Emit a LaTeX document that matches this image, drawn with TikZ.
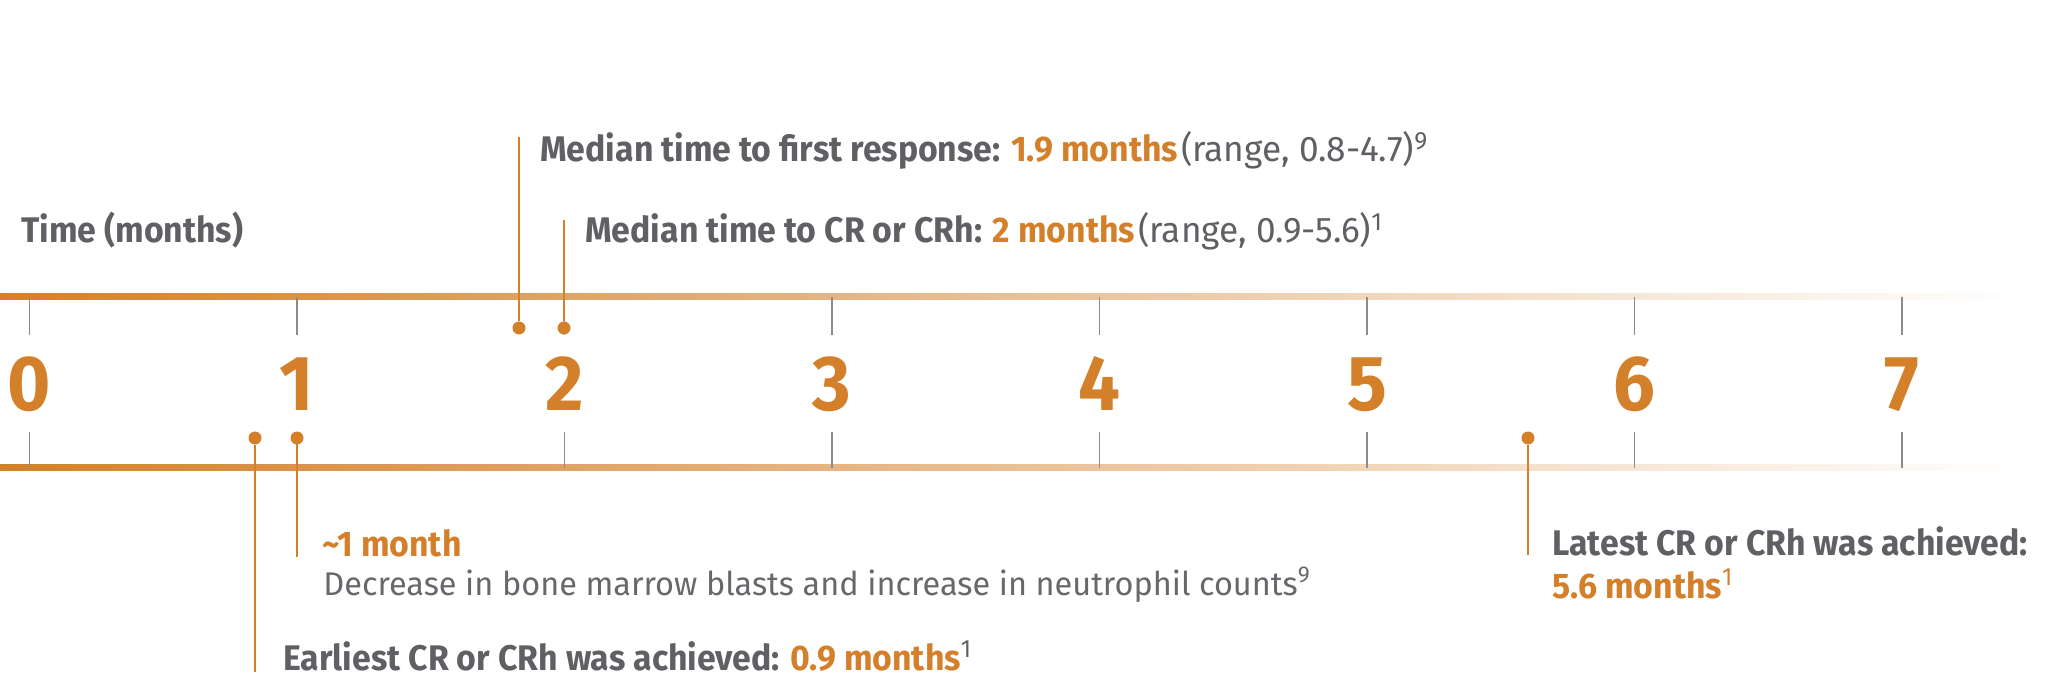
\documentclass[tikz,border=0pt]{standalone}
\usepackage{fontspec}
\setmainfont{Fira Sans}
\newfontfamily\firasemi{Fira Sans}[FakeStretch=0.95]
\newfontfamily\firalight{Fira Sans}[FakeStretch=0.99]
\usetikzlibrary{positioning}
\definecolor{accent}{HTML}{D4802B}
\definecolor{ink}{HTML}{5F6064}
\definecolor{inklight}{HTML}{67686C}
\definecolor{tickgray}{HTML}{8C8C8C}

\begin{document}
\begin{tikzpicture}[x=0.5pt, y=-0.5pt,
    head/.style={anchor=base west, inner sep=0pt, text=ink, font=\firasemi\bfseries\fontsize{17.8}{20}\selectfont},
    plain/.style={anchor=base west, inner sep=0pt, text=inklight, font=\firalight\fontsize{16.4}{19}\selectfont},
    month/.style={anchor=base, inner sep=0pt, text=accent, font=\firasemi\bfseries\fontsize{39}{40}\selectfont},
    dot/.style={circle, fill=accent, inner sep=0pt, minimum size=6.5pt},
    leader/.style={accent, line width=0.7pt},
    tickmark/.style={tickgray, line width=0.6pt},
    bar/.style={left color=accent, right color=white, draw=none}
  ]
  \useasboundingbox (0,0) rectangle (2072,678);

  % axis bars and month ticks
  \shade[bar] (0,294) rectangle (2022,300);
  \shade[bar] (0,465) rectangle (2022,471);
  \foreach \m in {0,...,7} {
    \draw[tickmark] (29.5+267.5*\m,297) -- ++(0,38);
    \draw[tickmark] (29.5+267.5*\m,432) -- ++(0,36);
    \node[month] (m\m) at (29.5+267.5*\m,411) {\m};
  }
  \node[head] (timelbl) at (21,243) {Time (months)};

  % events above the axis
  \node[dot] (first) at (519,328) {};
  \node[dot] (crmed) at (564,328) {};
  \coordinate (firsttop) at (519,137);
  \coordinate (crmedtop) at (564,220);
  \draw[leader] (first) -- (firsttop);
  \draw[leader] (crmed) -- (crmedtop);
  \node[head] (firstlbl) at (540,162) {Median time to first response: \textcolor{accent}{1.9 months}\hspace{1.5pt}{\firalight\mdseries(range, 0.8-4.7)\textsuperscript{9}}};
  \node[head] (crmedlbl) at (585,243) {Median time to CR or CRh: \textcolor{accent}{2 months}\hspace{1.5pt}{\firalight\mdseries(range, 0.9-5.6)\textsuperscript{1}}};

  % events below the axis
  \node[dot] (earliest) at (255,438) {};
  \node[dot] (blasts) at (297,438) {};
  \node[dot] (latest) at (1528,438) {};
  \coordinate (earliestend) at (255,672);
  \coordinate (blastsend) at (297,557);
  \coordinate (latestend) at (1528,555);
  \draw[leader] (earliest) -- (earliestend);
  \draw[leader] (blasts) -- (blastsend);
  \draw[leader] (latest) -- (latestend);
  \node[head, text=accent] (blastslbl) at (322,556) {\textasciitilde1 month};
  \node[plain] (blaststxt) at (323,595) {Decrease in bone marrow blasts and increase in neutrophil counts\textsuperscript{9}};
  \node[head] (earliestlbl) at (283,670) {Earliest CR or CRh was achieved: \textcolor{accent}{0.9 months}{\mdseries\textsuperscript{1}}};
  \node[head] (latestlbl) at (1552,555) {Latest CR or CRh was achieved:};
  \node[head, text=accent] (latestval) at (1552,598) {5.6 months{\mdseries\textsuperscript{1}}};
\end{tikzpicture}
\end{document}
